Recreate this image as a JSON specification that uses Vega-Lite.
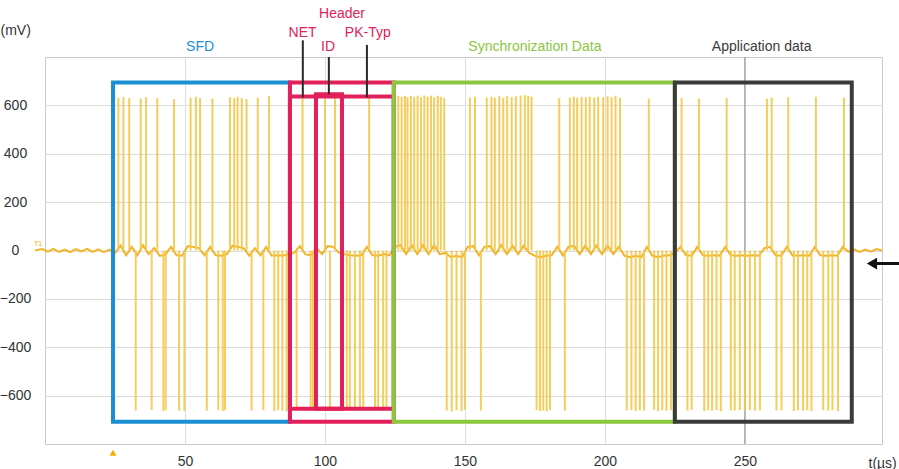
{
  "$schema": "https://vega.github.io/schema/vega-lite/v6.json",
  "autosize": {"type": "none"},
  "padding": {"left": 45, "top": 57, "right": 17, "bottom": 25},
  "width": 837,
  "height": 387,
  "background": "white",
  "config": {
    "font": "Liberation Sans",
    "view": {"stroke": "#c8c8c8", "strokeWidth": 1},
    "axis": {"gridColor": "#dcdcdc", "gridWidth": 1, "labelColor": "#333333", "labelFontSize": 14, "ticks": false, "tickSize": 0, "domain": false, "titleColor": "#333333", "titleFontWeight": "normal", "titleFontSize": 14}
  },
  "datasets": {
    "baseline": [
      {"t": -3.5, "v": 0}, {"t": -1, "v": 6}, {"t": 1, "v": -5}, {"t": 3, "v": 7}, {"t": 5, "v": -6}, {"t": 7, "v": 4}, {"t": 9, "v": -7}, {"t": 11, "v": 6}, {"t": 13, "v": -4}, {"t": 15, "v": 7}, {"t": 17, "v": -6}, {"t": 19, "v": 5}, {"t": 21, "v": -7}, {"t": 23, "v": 4},
      {"t": 25, "v": -10}, {"t": 27, "v": 20}, {"t": 29, "v": -20}, {"t": 31, "v": 15}, {"t": 33, "v": -20}, {"t": 35, "v": 22}, {"t": 37, "v": -15}, {"t": 39, "v": 10}, {"t": 41, "v": -22}, {"t": 43, "v": -18}, {"t": 45, "v": 15}, {"t": 47, "v": -20}, {"t": 49, "v": -22}, {"t": 51, "v": 18}, {"t": 53, "v": 15}, {"t": 55, "v": 10}, {"t": 57, "v": -20}, {"t": 59, "v": 15}, {"t": 61, "v": -20}, {"t": 63, "v": -22}, {"t": 65, "v": -15}, {"t": 67, "v": 20}, {"t": 69, "v": 15}, {"t": 71, "v": 10}, {"t": 73, "v": -22}, {"t": 75, "v": 10}, {"t": 77, "v": -20}, {"t": 79, "v": 15}, {"t": 81, "v": -22}, {"t": 83, "v": -20}, {"t": 85, "v": -22}, {"t": 87, "v": -15},
      {"t": 89, "v": -10}, {"t": 91, "v": 18}, {"t": 93, "v": -15}, {"t": 95, "v": -20}, {"t": 97, "v": 10}, {"t": 99, "v": -15}, {"t": 101, "v": 18}, {"t": 103, "v": 15}, {"t": 105, "v": -10}, {"t": 107, "v": -15}, {"t": 109, "v": -20}, {"t": 111, "v": -22}, {"t": 113, "v": -20}, {"t": 115, "v": 15}, {"t": 117, "v": -20}, {"t": 119, "v": -22}, {"t": 121, "v": -15}, {"t": 123, "v": -20},
      {"t": 125, "v": 15}, {"t": 127, "v": 22}, {"t": 129, "v": -15}, {"t": 131, "v": 22}, {"t": 133, "v": -15}, {"t": 135, "v": 22}, {"t": 137, "v": -15}, {"t": 139, "v": 22}, {"t": 141, "v": -15}, {"t": 143, "v": -10}, {"t": 145, "v": -28}, {"t": 147, "v": -22}, {"t": 149, "v": -28}, {"t": 151, "v": 15}, {"t": 153, "v": 18}, {"t": 155, "v": -20}, {"t": 157, "v": 15}, {"t": 159, "v": 18}, {"t": 161, "v": -15}, {"t": 163, "v": 22}, {"t": 165, "v": -15}, {"t": 167, "v": 20}, {"t": 169, "v": -15}, {"t": 171, "v": 20}, {"t": 173, "v": -10}, {"t": 175, "v": -22}, {"t": 177, "v": -28}, {"t": 179, "v": -22}, {"t": 181, "v": -20}, {"t": 183, "v": 15}, {"t": 185, "v": -20}, {"t": 187, "v": 15}, {"t": 189, "v": 20}, {"t": 191, "v": -15}, {"t": 193, "v": 20}, {"t": 195, "v": -15}, {"t": 197, "v": 20}, {"t": 199, "v": -15}, {"t": 201, "v": 20}, {"t": 203, "v": -15}, {"t": 205, "v": 15}, {"t": 207, "v": -22}, {"t": 209, "v": -28}, {"t": 211, "v": -22}, {"t": 213, "v": -28}, {"t": 215, "v": 15}, {"t": 217, "v": -22}, {"t": 219, "v": -28}, {"t": 221, "v": -22}, {"t": 223, "v": -20},
      {"t": 225, "v": -10}, {"t": 227, "v": 15}, {"t": 229, "v": -20}, {"t": 231, "v": -22}, {"t": 233, "v": 15}, {"t": 235, "v": -20}, {"t": 237, "v": -22}, {"t": 239, "v": -20}, {"t": 241, "v": -22}, {"t": 243, "v": 15}, {"t": 245, "v": -20}, {"t": 247, "v": -22}, {"t": 249, "v": -20}, {"t": 251, "v": -22}, {"t": 253, "v": -20}, {"t": 255, "v": -22}, {"t": 257, "v": 10}, {"t": 259, "v": 15}, {"t": 261, "v": -20}, {"t": 263, "v": -22}, {"t": 265, "v": 15}, {"t": 267, "v": -20}, {"t": 269, "v": -22}, {"t": 271, "v": -20}, {"t": 273, "v": -22}, {"t": 275, "v": 15}, {"t": 277, "v": -20}, {"t": 279, "v": -22}, {"t": 281, "v": -20}, {"t": 283, "v": -22}, {"t": 285, "v": 15},
      {"t": 287, "v": -5}, {"t": 289, "v": 5}, {"t": 291, "v": -6}, {"t": 293, "v": 4}, {"t": 295, "v": -5}, {"t": 297, "v": 6}, {"t": 299, "v": 0}
    ],
    "spikes": [
      {"t": 26.2, "v": 632}, {"t": 28.0, "v": 635}, {"t": 30.1, "v": 630}, {"t": 34.2, "v": 628}, {"t": 36.1, "v": 634}, {"t": 40.1, "v": 630}, {"t": 46.1, "v": 626}, {"t": 52.0, "v": 632}, {"t": 53.9, "v": 636}, {"t": 55.4, "v": 630},
      {"t": 59.8, "v": 628}, {"t": 66.1, "v": 634}, {"t": 67.6, "v": 630}, {"t": 68.8, "v": 636}, {"t": 70.3, "v": 630}, {"t": 72.0, "v": 626}, {"t": 76.0, "v": 632}, {"t": 80.0, "v": 638},
      {"t": 92.0, "v": 630}, {"t": 100.0, "v": 628}, {"t": 103.6, "v": 630}, {"t": 115.8, "v": 634},
      {"t": 126.2, "v": 640}, {"t": 127.4, "v": 636}, {"t": 128.6, "v": 640}, {"t": 129.5, "v": 634}, {"t": 130.7, "v": 640}, {"t": 131.9, "v": 636}, {"t": 133.1, "v": 640}, {"t": 134.3, "v": 634}, {"t": 135.5, "v": 640}, {"t": 136.7, "v": 636}, {"t": 137.9, "v": 640}, {"t": 139.0, "v": 634}, {"t": 140.3, "v": 640}, {"t": 141.4, "v": 636}, {"t": 142.6, "v": 630},
      {"t": 151.8, "v": 632}, {"t": 153.6, "v": 636}, {"t": 157.8, "v": 632}, {"t": 159.5, "v": 636}, {"t": 160.7, "v": 632}, {"t": 162.3, "v": 638}, {"t": 163.7, "v": 632}, {"t": 165.1, "v": 638}, {"t": 166.7, "v": 634}, {"t": 168.2, "v": 638}, {"t": 169.9, "v": 640}, {"t": 171.4, "v": 642}, {"t": 172.6, "v": 640}, {"t": 173.8, "v": 636},
      {"t": 183.7, "v": 630}, {"t": 187.5, "v": 632}, {"t": 188.9, "v": 636}, {"t": 190.1, "v": 632}, {"t": 191.7, "v": 636}, {"t": 193.2, "v": 634}, {"t": 194.6, "v": 636}, {"t": 196.2, "v": 632}, {"t": 197.6, "v": 636}, {"t": 199.4, "v": 634}, {"t": 201.0, "v": 638}, {"t": 202.4, "v": 634}, {"t": 203.8, "v": 640}, {"t": 205.4, "v": 632}, {"t": 215.7, "v": 628},
      {"t": 227.4, "v": 630}, {"t": 233.6, "v": 628}, {"t": 243.5, "v": 630}, {"t": 257.9, "v": 628}, {"t": 259.6, "v": 632}, {"t": 265.5, "v": 634}, {"t": 275.4, "v": 636}, {"t": 285.4, "v": 632},
      {"t": 32.4, "v": -662}, {"t": 38.1, "v": -660}, {"t": 42.3, "v": -664}, {"t": 43.1, "v": -660}, {"t": 47.9, "v": -662}, {"t": 49.8, "v": -665}, {"t": 57.8, "v": -662}, {"t": 61.9, "v": -660}, {"t": 63.5, "v": -664}, {"t": 64.3, "v": -660}, {"t": 73.8, "v": -662}, {"t": 78.0, "v": -660}, {"t": 81.9, "v": -664}, {"t": 83.3, "v": -660}, {"t": 84.8, "v": -662}, {"t": 86.3, "v": -665},
      {"t": 89.9, "v": -660}, {"t": 94.9, "v": -662}, {"t": 95.7, "v": -660}, {"t": 101.8, "v": -662}, {"t": 107.8, "v": -660}, {"t": 108.9, "v": -664}, {"t": 110.7, "v": -660}, {"t": 112.5, "v": -662}, {"t": 113.7, "v": -660}, {"t": 117.9, "v": -662}, {"t": 119.0, "v": -660}, {"t": 120.8, "v": -664}, {"t": 122.0, "v": -660},
      {"t": 143.5, "v": -662}, {"t": 145.3, "v": -665}, {"t": 147.0, "v": -660}, {"t": 148.8, "v": -664}, {"t": 150.0, "v": -658}, {"t": 155.7, "v": -662},
      {"t": 175.6, "v": -660}, {"t": 176.8, "v": -664}, {"t": 178.0, "v": -662}, {"t": 179.2, "v": -665}, {"t": 180.4, "v": -660}, {"t": 185.7, "v": -662},
      {"t": 207.8, "v": -662}, {"t": 209.5, "v": -660}, {"t": 211.0, "v": -664}, {"t": 212.5, "v": -660}, {"t": 214.0, "v": -662}, {"t": 217.6, "v": -660}, {"t": 219.0, "v": -664}, {"t": 220.5, "v": -660}, {"t": 222.0, "v": -662}, {"t": 223.6, "v": -660},
      {"t": 229.5, "v": -662}, {"t": 231.0, "v": -660}, {"t": 235.5, "v": -664}, {"t": 236.9, "v": -660}, {"t": 238.3, "v": -662}, {"t": 239.9, "v": -660}, {"t": 241.4, "v": -664}, {"t": 245.0, "v": -660}, {"t": 246.4, "v": -662}, {"t": 248.2, "v": -660}, {"t": 250.0, "v": -664}, {"t": 251.8, "v": -660}, {"t": 253.6, "v": -662}, {"t": 255.4, "v": -660},
      {"t": 261.3, "v": -662}, {"t": 263.1, "v": -660}, {"t": 267.5, "v": -664}, {"t": 269.0, "v": -660}, {"t": 270.8, "v": -662}, {"t": 272.3, "v": -660}, {"t": 273.8, "v": -664}, {"t": 278.0, "v": -660}, {"t": 279.8, "v": -662}, {"t": 281.3, "v": -660}, {"t": 283.3, "v": -664}
    ],
    "boxes": [
      {"name": "SFD", "x1": 24.3, "x2": 87.5, "y1": 695, "y2": -708},
      {"name": "Header", "x1": 87.5, "x2": 124.6, "y1": 695, "y2": -708},
      {"name": "Header", "x1": 87.5, "x2": 124.6, "y1": 637, "y2": -654},
      {"name": "Header", "x1": 96.8, "x2": 106.1, "y1": 646, "y2": -654},
      {"name": "Synchronization Data", "x1": 124.6, "x2": 225, "y1": 695, "y2": -708},
      {"name": "Application data", "x1": 225, "x2": 288.2, "y1": 695, "y2": -708}
    ],
    "leaders": [
      {"t": 92.1, "y1": 869, "y2": 633},
      {"t": 101.4, "y1": 800, "y2": 646},
      {"t": 115.0, "y1": 850, "y2": 633}
    ],
    "labels": [
      {"t": 55.4, "v": 840, "text": "SFD", "name": "SFD"},
      {"t": 175.0, "v": 840, "text": "Synchronization Data", "name": "Synchronization Data"},
      {"t": 256.0, "v": 840, "text": "Application data", "name": "Application data"},
      {"t": 106.1, "v": 976, "text": "Header", "name": "Header"},
      {"t": 92.0, "v": 900, "text": "NET", "name": "Header"},
      {"t": 101.1, "v": 842, "text": "ID", "name": "Header"},
      {"t": 115.3, "v": 900, "text": "PK-Typ", "name": "Header"}
    ]
  },
  "layer": [
    {
      "data": {"values": [{"t": 250}]},
      "mark": {"type": "rule", "color": "#9a9a9a", "strokeWidth": 1.2},
      "encoding": {
        "x": {"field": "t", "type": "quantitative", "scale": {"domain": [0, 299], "nice": false, "zero": false},
          "axis": {"values": [50, 100, 150, 200, 250], "grid": true, "labelPadding": 10, "title": "t(µs)", "titleAnchor": "start", "titleX": 823, "titleY": 19, "titleAlign": "left", "titleBaseline": "middle", "titleAngle": 0}},
        "y": {"datum": -800, "type": "quantitative", "scale": {"domain": [-800, 800], "nice": false, "zero": false},
          "axis": {"values": [-600, -400, -200, 0, 200, 400, 600], "grid": true, "labelAlign": "center", "labelPadding": 30, "labelBaseline": "middle", "title": "(mV)", "titleX": -45, "titleY": -27, "titleAngle": 0, "titleAlign": "left", "titleBaseline": "middle"}},
        "y2": {"datum": 800}
      }
    },
    {
      "data": {"name": "baseline"},
      "mark": {"type": "line", "color": "#f0b52a", "strokeWidth": 2, "interpolate": "linear"},
      "encoding": {
        "x": {"field": "t", "type": "quantitative"},
        "y": {"field": "v", "type": "quantitative"}
      }
    },
    {
      "data": {"name": "spikes"},
      "mark": {"type": "rule", "color": "#f4c84a", "strokeWidth": 2, "opacity": 0.9},
      "encoding": {
        "x": {"field": "t", "type": "quantitative"},
        "y": {"field": "v", "type": "quantitative"},
        "y2": {"datum": 0}
      }
    },
    {
      "data": {"name": "boxes"},
      "mark": {"type": "rect", "filled": false, "strokeWidth": 4},
      "encoding": {
        "x": {"field": "x1", "type": "quantitative"},
        "x2": {"field": "x2"},
        "y": {"field": "y1", "type": "quantitative"},
        "y2": {"field": "y2"},
        "color": {"field": "name", "type": "nominal", "legend": null,
          "scale": {"domain": ["SFD", "Header", "Synchronization Data", "Application data"], "range": ["#1c8fd2", "#e2215a", "#8cc63f", "#3b3b3b"]}}
      }
    },
    {
      "data": {"name": "leaders"},
      "mark": {"type": "rule", "color": "#2a2a2a", "strokeWidth": 2},
      "encoding": {
        "x": {"field": "t", "type": "quantitative"},
        "y": {"field": "y1", "type": "quantitative"},
        "y2": {"field": "y2"}
      }
    },
    {
      "data": {"name": "labels"},
      "mark": {"type": "text", "fontSize": 14, "baseline": "middle", "align": "center"},
      "encoding": {
        "x": {"field": "t", "type": "quantitative"},
        "y": {"field": "v", "type": "quantitative"},
        "text": {"field": "text"},
        "color": {"field": "name", "type": "nominal", "legend": null}
      }
    },
    {
      "data": {"values": [{"t": 24.3, "v": -836}]},
      "mark": {"type": "point", "shape": "triangle-up", "filled": true, "color": "#f0b000", "size": 50, "opacity": 1},
      "encoding": {
        "x": {"field": "t", "type": "quantitative"},
        "y": {"field": "v", "type": "quantitative"}
      }
    },
    {
      "data": {"values": [{"t": -2.5, "v": 25, "text": "T1"}]},
      "mark": {"type": "text", "fontSize": 7, "color": "#f0b000"},
      "encoding": {
        "x": {"field": "t", "type": "quantitative"},
        "y": {"field": "v", "type": "quantitative"},
        "text": {"field": "text"}
      }
    },
    {
      "data": {"values": [{"t1": 296, "t2": 310, "v": -54}]},
      "mark": {"type": "rule", "color": "#111111", "strokeWidth": 3},
      "encoding": {
        "x": {"field": "t1", "type": "quantitative"},
        "x2": {"field": "t2"},
        "y": {"field": "v", "type": "quantitative"}
      }
    },
    {
      "data": {"values": [{"t": 295.4, "v": -54}]},
      "mark": {"type": "point", "shape": "triangle-left", "filled": true, "color": "#111111", "size": 140, "opacity": 1},
      "encoding": {
        "x": {"field": "t", "type": "quantitative"},
        "y": {"field": "v", "type": "quantitative"}
      }
    }
  ]
}
